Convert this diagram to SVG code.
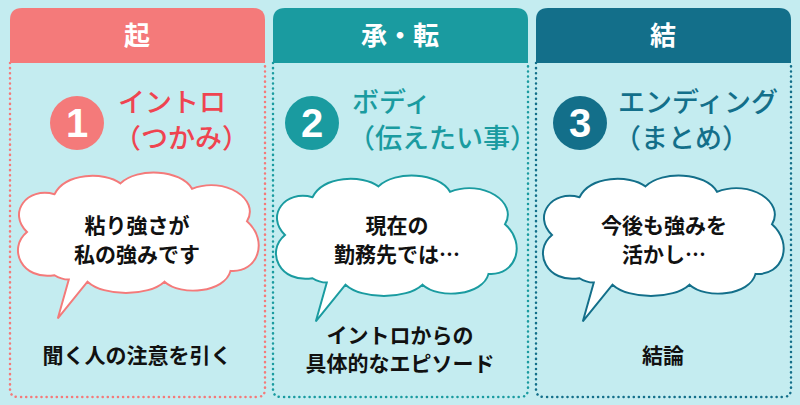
<svg xmlns="http://www.w3.org/2000/svg" width="800" height="405" viewBox="0 0 800 405">
<defs>
<style>
text{font-family:"Noto Sans CJK JP","Noto Sans",sans-serif;text-anchor:middle;font-weight:bold}
.h{fill:#fff;font-size:26px}
.n{fill:#fff;font-size:40px;font-family:"Liberation Sans",sans-serif}
.t{font-size:27px;text-anchor:start;font-weight:500}
.c{font-size:21px;fill:#111}
.b{font-size:21px;fill:#111}
.cl{fill:#fff;stroke-width:1.8}
.d{fill:none;stroke-width:2.5;stroke-dasharray:0.1 5;stroke-linecap:round}
</style>
<path id="cloud" d="M -75,40 C -105,45 -118,15 -100,0 C -118,-18 -100,-42 -75,-35 C -65,-55 -30,-56 -15,-45 C 0,-60 40,-58 50,-40 C 80,-52 112,-30 100,-10 C 120,8 110,38 85,36 C 80,56 40,60 25,46 C 10,60 -30,60 -45,46 L -72,80 L -62,44 C -66,44 -72,42 -75,40 Z"/>
</defs>
<rect width="800" height="405" fill="#c4ecf0"/>
<g id="col1">
<path d="M10,63 V20 Q10,8 22,8 H253 Q265,8 265,20 V63 Z" fill="#f47a7a"/>
<path class="d" d="M10,63 V389 Q10,397 18,397 H257 Q265,397 265,389 V63" stroke="#f47a7a"/>
<text class="h" x="137" y="45">起</text>
<circle cx="77" cy="123" r="27" fill="#f47a7a"/>
<text class="n" x="77" y="137">1</text>
<text class="t" x="118" y="112" fill="#ef4450">イントロ</text>
<text class="t" x="114" y="148" fill="#ef4450">（つかみ）</text>
<use href="#cloud" transform="translate(137,232) scale(1.1,1.08)" class="cl" stroke="#f47a7a"/>
<text class="c" x="137" y="233">粘り強さが</text>
<text class="c" x="137" y="262">私の強みです</text>
<text class="b" x="137" y="363">聞く人の注意を引く</text>
</g>
<g id="col2">
<path d="M273,63 V20 Q273,8 285,8 H516 Q528,8 528,20 V63 Z" fill="#1a9ba0"/>
<path class="d" d="M273,63 V389 Q273,397 281,397 H520 Q528,397 528,389 V63" stroke="#1a9ba0"/>
<text class="h" x="400" y="45">承・転</text>
<circle cx="312" cy="123" r="27" fill="#1a9ba0"/>
<text class="n" x="312" y="137">2</text>
<text class="t" x="352" y="112" fill="#1a9ba0">ボディ</text>
<text class="t" x="348" y="148" fill="#1a9ba0">（伝えたい事）</text>
<use href="#cloud" transform="translate(395,235) scale(1.1,1.08)" class="cl" stroke="#1a9ba0"/>
<text class="c" x="397" y="233">現在の</text>
<text class="c" x="397" y="262">勤務先では…</text>
<text class="b" x="400" y="343">イントロからの</text>
<text class="b" x="400" y="371">具体的なエピソード</text>
</g>
<g id="col3">
<path d="M536,63 V20 Q536,8 548,8 H779 Q791,8 791,20 V63 Z" fill="#136f8a"/>
<path class="d" d="M536,63 V389 Q536,397 544,397 H783 Q791,397 791,389 V63" stroke="#136f8a"/>
<text class="h" x="663" y="45">結</text>
<circle cx="580" cy="123" r="27" fill="#136f8a"/>
<text class="n" x="580" y="137">3</text>
<text class="t" x="618" y="112" fill="#136f8a">エンディング</text>
<text class="t" x="614" y="148" fill="#136f8a">（まとめ）</text>
<use href="#cloud" transform="translate(662,235) scale(1.1,1.08)" class="cl" stroke="#136f8a"/>
<text class="c" x="664" y="233">今後も強みを</text>
<text class="c" x="664" y="262">活かし…</text>
<text class="b" x="663" y="363">結論</text>
</g>
</svg>
